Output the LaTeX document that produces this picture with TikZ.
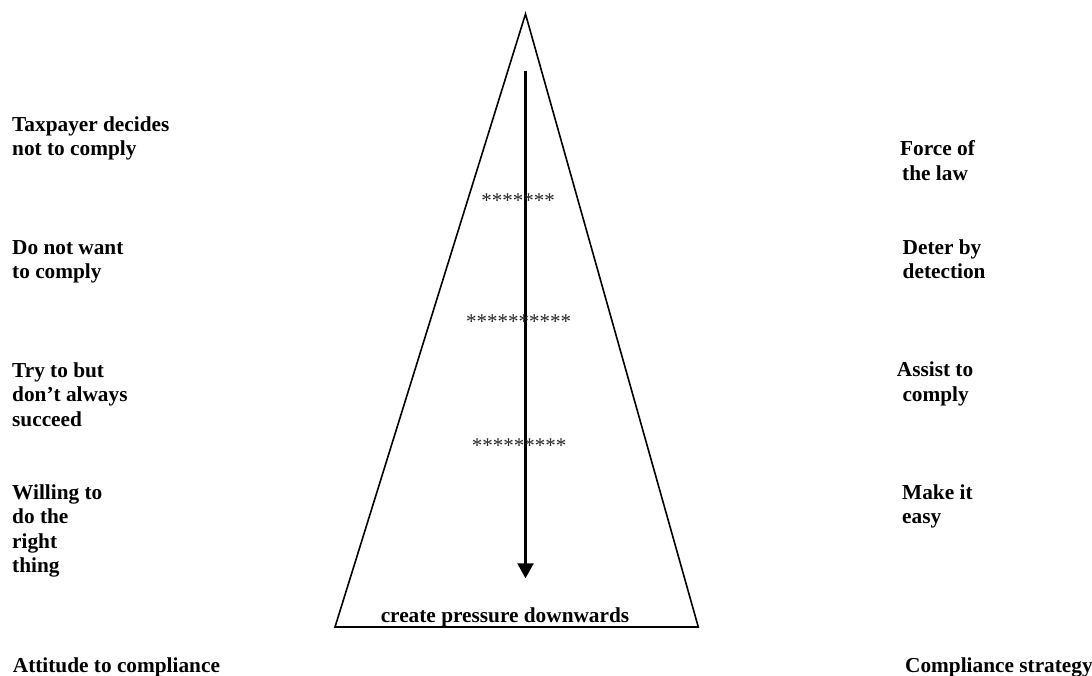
\documentclass[tikz,border=0pt]{standalone}
\usepackage{fontspec}
\setmainfont{Liberation Serif}
\usetikzlibrary{arrows.meta}
\tikzset{
  lbl/.style={inner sep=0pt, anchor=base west, align=left, font=\bfseries\fontsize{21.3}{24.4}\selectfont},
  lblc/.style={inner sep=0pt, anchor=base, font=\bfseries\fontsize{21.3}{24.4}\selectfont},
  stars/.style={inner sep=0pt, anchor=base, text=black!85, font=\fontsize{21}{24}\selectfont},
  pyr/.style={line width=1.6pt, line join=miter},
  pressarrow/.style={line width=2.2pt, -{Triangle[width=16pt,length=15pt]}}
}
\begin{document}
\begin{tikzpicture}[x=1pt,y=-1pt]
\useasboundingbox[fill=white] (0,0) rectangle (1092,675);
% pyramid
\coordinate (apex) at (525.5,14);
\coordinate (bl) at (335,627);
\coordinate (br) at (698.3,627);
\draw[pyr] (apex) -- (br) -- (bl) -- cycle;
% arrow
\coordinate (atop) at (525.5,70.7);
\coordinate (abot) at (525.5,578.3);
\draw[pressarrow] (atop) -- (abot);
% stars
\node[stars] (s1) at (518,207) {*******};
\node[stars] (s2) at (518.7,328) {**********};
\node[stars] (s3) at (519,452) {*********};
\node[lblc] (press) at (505,622) {create pressure downwards};
% left labels (anchored at the baseline of the last line)
\node[lbl] (l1) at (12,155.5) {Taxpayer decides\\not to comply};
\node[lbl] (l2) at (12,278.5) {Do not want\\to comply};
\node[lbl] (l3) at (12,426) {Try to but\\don’t always\\succeed};
\node[lbl] (l4) at (12,572.7) {Willing to\\do the\\right\\thing};
\node[lbl] (l5) at (12.7,672) {Attitude to compliance};
% right labels
\node[lbl] (r1a) at (900,155.7) {Force of};
\node[lbl] (r1b) at (902,180.7) {the law};
\node[lbl] (r2) at (902.5,278.5) {Deter by\\detection};
\node[lbl] (r3a) at (896.7,376.7) {Assist to};
\node[lbl] (r3b) at (902.3,401.7) {comply};
\node[lbl] (r4) at (902,523.5) {Make it\\easy};
\node[lbl] (r5) at (905,672) {Compliance strategy};
\end{tikzpicture}
\end{document}
